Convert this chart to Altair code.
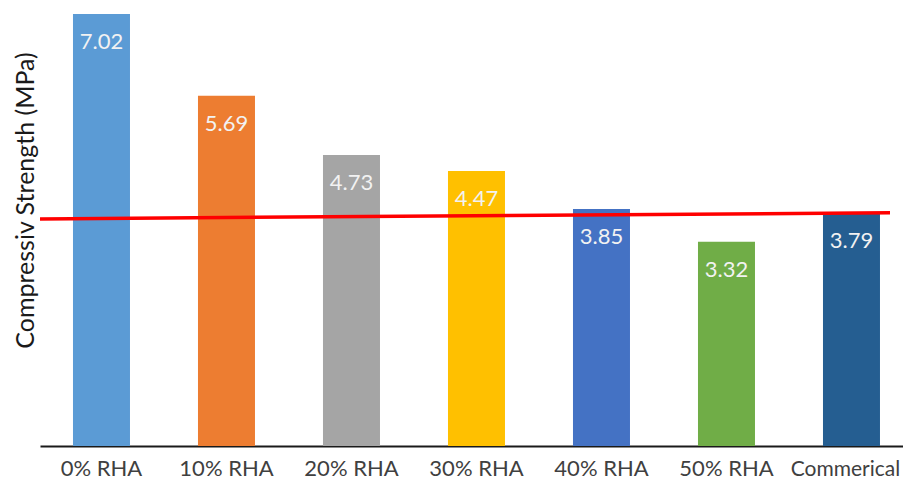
import altair as alt
import pandas as pd

categories = ["0% RHA", "10% RHA", "20% RHA", "30% RHA", "40% RHA", "50% RHA", "Commerical"]
values = [7.02, 5.69, 4.73, 4.47, 3.85, 3.32, 3.79]
colors = ["#5B9BD5", "#ED7D31", "#A5A5A5", "#FFC000", "#4472C4", "#70AD47", "#255E91"]
line_y = [3.69, 3.79]

df = pd.DataFrame({"cat": categories, "val": values, "label": [f"{v:.2f}" for v in values]})
line_df = pd.DataFrame({"y1": [line_y[0]], "y2": [line_y[1]]})

FONT = "Lato"
last = categories[-1]

x_enc = alt.X(
    "cat:N",
    sort=categories,
    scale=alt.Scale(paddingInner=0.544, paddingOuter=0.224, align=0.589, round=False),
    axis=alt.Axis(
        title=None, labelAngle=0, labelFont=FONT,
        labelFontSize={"condition": {"test": f"datum.value == '{last}'", "value": 21}, "value": 22},
        labelOffset={"condition": {"test": f"datum.value == '{last}'", "value": -6}, "value": 0},
        labelColor="#404040", labelPadding=12, ticks=False,
        domainColor="#1a1a1a", domainWidth=2, grid=False,
    ),
)
y_enc = alt.Y(
    "val:Q",
    scale=alt.Scale(domain=[0, 7.02], nice=False, zero=True),
    axis=alt.Axis(
        title="Compressiv Strength (MPa)", titleFont=FONT, titleFontSize=25, titleFontWeight="normal",
        titleColor="#1a1a1a", titleAngle=270, titleX=-7, titleY=186, titleBaseline="alphabetic",
        titleAlign="center", labels=False, ticks=False, domain=False, grid=False,
    ),
)

bars = alt.Chart(df).mark_bar().encode(
    x=x_enc,
    y=y_enc,
    color=alt.Color("cat:N", sort=categories, scale=alt.Scale(domain=categories, range=colors), legend=None),
)

labels = alt.Chart(df).mark_text(
    font=FONT, fontSize=22, color="#F2F2F2", baseline="alphabetic", dy=35
).encode(x=alt.X("cat:N", sort=categories), y="val:Q", text="label:N")

rule = alt.Chart(line_df).mark_rule(color="#FF0000", strokeWidth=3.5).encode(
    x=alt.value(0), x2=alt.value(850), y="y1:Q", y2="y2:Q"
)

chart = alt.layer(bars, rule, labels).properties(
    width=863, height=432,
    autosize=alt.AutoSizeParams(type="none"),
    padding={"left": 32, "right": 0, "top": 6, "bottom": 35},
    background="white",
).configure_view(stroke=None)

chart.save("out.html", embed_options={"renderer": "svg", "actions": False})
